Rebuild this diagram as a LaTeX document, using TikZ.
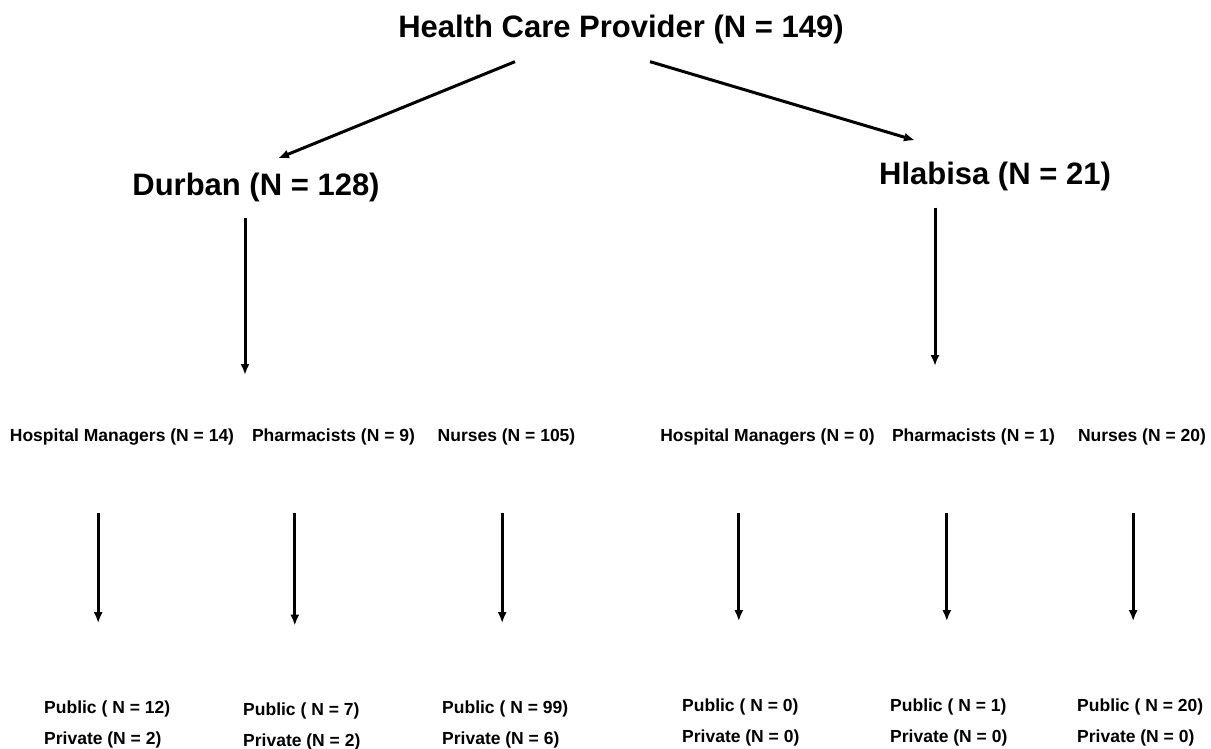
\documentclass[tikz,border=0pt]{standalone}
\usepackage{fontspec}
\setmainfont{Liberation Sans}
\usetikzlibrary{arrows.meta,calc}

\begin{document}
\begin{tikzpicture}[x=1pt,y=-1pt,
        big/.style={font=\fontsize{31}{36}\selectfont\bfseries, inner sep=3pt},
        small/.style={font=\fontsize{17.5}{31}\selectfont\bfseries, inner sep=3pt},
        leaf/.style={small, anchor=west, align=left},
        arr/.style={-{Latex[length=11pt,width=9pt]}, line width=3pt}]
    \useasboundingbox (0,0) rectangle (1211,749);

    % top levels
    \node[big] (hcp) at (621,29) {Health Care Provider (N = 149)};
    \node[big] (durban) at (256,187) {Durban (N = 128)};
    \node[big] (hlabisa) at (995,176) {Hlabisa (N = 21)};

    % providers
    \node[small] (hm1) at (122,437) {Hospital Managers (N = 14)};
    \node[small] (ph1) at (333.5,437) {Pharmacists (N = 9)};
    \node[small] (nu1) at (506.5,437) {Nurses (N = 105)};
    \node[small] (hm2) at (767.5,437) {Hospital Managers (N = 0)};
    \node[small] (ph2) at (973.5,437) {Pharmacists (N = 1)};
    \node[small] (nu2) at (1142,437) {Nurses (N = 20)};

    % sectors
    \node[leaf] (pv1) at (41,724) {Public ( N = 12)\\Private (N = 2)};
    \node[leaf] (pv2) at (240,726.5) {Public ( N = 7)\\Private (N = 2)};
    \node[leaf] (pv3) at (439,724) {Public ( N = 99)\\Private (N = 6)};
    \node[leaf] (pv4) at (679,722) {Public ( N = 0)\\Private (N = 0)};
    \node[leaf] (pv5) at (887,722) {Public ( N = 1)\\Private (N = 0)};
    \node[leaf] (pv6) at (1074,722) {Public ( N = 20)\\Private (N = 0)};

    \coordinate (dbot) at (245,375);
    \coordinate (hbot) at (935,366);

    \draw[arr] ([shift={(-106,15)}]hcp.south) -- ([shift={(22,-11)}]durban.north);
    \draw[arr] ([shift={(29,15)}]hcp.south) -- ([shift={(-80,-18)}]hlabisa.north);
    \draw[arr, shorten <=13pt] (durban.south -| dbot) -- (dbot);
    \draw[arr, shorten <=14pt] (hlabisa.south -| hbot) -- (hbot);

    \foreach \a/\b/\d in {hm1/pv1/-9, ph1/pv2/-7, nu1/pv3/-3, hm2/pv4/-2, ph2/pv5/-2, nu2/pv6/-7}
        \draw[arr, shorten <=65pt, shorten >=74pt] ($(\a.south -| \b.north)+(\d,0)$) -- ($(\b.north)+(\d,0)$);
\end{tikzpicture}
\end{document}
